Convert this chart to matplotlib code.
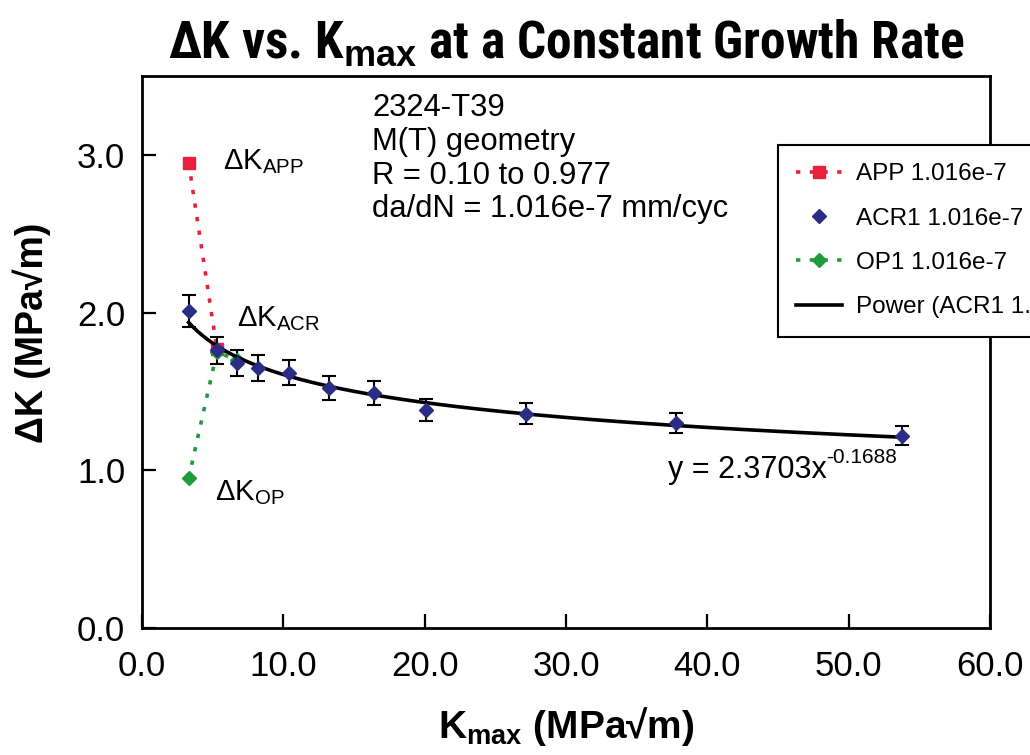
import numpy as np
import matplotlib
matplotlib.use("Agg")
import matplotlib.pyplot as plt
from matplotlib import font_manager
from matplotlib.lines import Line2D

plt.rcParams['font.family'] = ['Liberation Sans', 'DejaVu Sans']
plt.rcParams['mathtext.fontset'] = 'custom'
plt.rcParams['mathtext.rm'] = 'Liberation Sans'
plt.rcParams['mathtext.it'] = 'Liberation Sans:italic'
plt.rcParams['mathtext.bf'] = 'Liberation Sans:bold'

# data
kmax_app = [3.3, 5.3]
dk_app = [2.95, 1.77]

kmax_acr = [3.3, 5.3, 6.7, 8.2, 10.4, 13.2, 16.4, 20.1, 27.2, 37.8, 53.8]
dk_acr = [2.01, 1.76, 1.68, 1.65, 1.62, 1.52, 1.49, 1.38, 1.36, 1.30, 1.22]
err_acr = [0.10, 0.088, 0.084, 0.083, 0.081, 0.076, 0.075, 0.069, 0.068, 0.065, 0.061]

kmax_op = [3.3, 5.3, 6.7]
dk_op = [0.95, 1.75, 1.70]

fit_a = 2.3703
fit_b = -0.1688

W, H = 1030, 755
fig = plt.figure(figsize=(W / 100, H / 100), dpi=100)
ax = fig.add_axes([142 / W, 1 - 628 / H, (990 - 142) / W, (628 - 76) / H])

red = '#e8203a'
blue = '#2a2d86'
green = '#1f9a3c'
dots = (0, (1.2, 2.6))

ax.plot(kmax_app, dk_app, linestyle=dots, lw=2.6, color=red,
        marker='s', ms=8, mfc=red, mec=red)
ax.errorbar(kmax_acr, dk_acr, yerr=err_acr, fmt='D', ms=7, color=blue,
            ecolor='black', elinewidth=1.5, capsize=5, capthick=1.5)
ax.plot(kmax_op, dk_op, linestyle=dots, lw=2.6, color=green,
        marker='D', ms=7, mfc=green, mec=green)

xf = np.linspace(min(kmax_acr), max(kmax_acr), 300)
ax.plot(xf, fit_a * xf ** fit_b, color='black', lw=2.6)

ax.set_xlim(0, 60)
ax.set_ylim(0, 3.5)
ax.set_xticks([0, 10, 20, 30, 40, 50, 60])
ax.set_yticks([0, 1, 2, 3])
ax.xaxis.set_major_formatter(matplotlib.ticker.FormatStrFormatter('%.1f'))
ax.yaxis.set_major_formatter(matplotlib.ticker.FormatStrFormatter('%.1f'))
ax.tick_params(direction='in', length=10, width=1.6, labelsize=25, pad=16)
ax.tick_params(axis='y', pad=12)
for s in ax.spines.values():
    s.set_linewidth(2)

ax.set_xlabel(r'K$_{\mathbf{max}}$ (MPa√m)', fontsize=28, fontweight='bold', labelpad=16)
ax.set_ylabel('ΔK (MPa√m)', fontsize=27, fontweight='bold')
ax.yaxis.set_label_coords(-0.107, 0.535)

# condensed bold title if a narrow face is installed
title_fam = ['Liberation Sans']
title_size = 32
for fam in ['Liberation Sans Narrow', 'DejaVu Sans Condensed', 'Roboto Condensed', 'Open Sans Condensed']:
    try:
        font_manager.findfont(font_manager.FontProperties(family=fam), fallback_to_default=False)
        title_fam = [fam, 'Liberation Sans']
        title_size = 37
        break
    except Exception:
        pass
ax.set_title(r'ΔK vs. K$_{\mathbf{max}}$ at a Constant Growth Rate',
             fontsize=title_size, fontweight='bold', pad=13, family=title_fam)

ax.text(5.7, 2.96, r'$\Delta$K$_{\mathrm{APP}}$', fontsize=21, va='center')
ax.text(6.75, 1.96, r'$\Delta$K$_{\mathrm{ACR}}$', fontsize=21, va='center')
ax.text(5.2, 0.86, r'$\Delta$K$_{\mathrm{OP}}$', fontsize=21, va='center')

ax.text(16.3, 3.39, '2324-T39\nM(T) geometry\nR = 0.10 to 0.977\nda/dN = 1.016e-7 mm/cyc',
        fontsize=22.3, va='top', ha='left', linespacing=1.16)
eq = ax.text(37.2, 1.0, 'y = 2.3703x', fontsize=22, va='center')
ax.annotate('-0.1688', xy=(1, 0.62), xycoords=eq, fontsize=15, va='bottom', ha='left')

handles = [
    Line2D([], [], linestyle=dots, lw=2.6, color=red, marker='s', ms=8),
    Line2D([], [], linestyle='none', color=blue, marker='D', ms=7),
    Line2D([], [], linestyle=dots, lw=2.6, color=green, marker='D', ms=7),
    Line2D([], [], color='black', lw=2.6),
]
labels = ['APP 1.016e-7', 'ACR1 1.016e-7', 'OP1 1.016e-7', 'Power (ACR1 1.016e-7)']
leg = fig.legend(handles, labels, loc='upper left', bbox_to_anchor=(778 / W, 1 - 145 / H),
                 borderaxespad=0, fontsize=17.5, numpoints=1, handlelength=1.9,
                 labelspacing=0.92, fancybox=False, framealpha=1,
                 edgecolor='black', borderpad=0.75, handletextpad=0.55)
leg.get_frame().set_linewidth(1.5)

fig.savefig('out.png', dpi=100)
